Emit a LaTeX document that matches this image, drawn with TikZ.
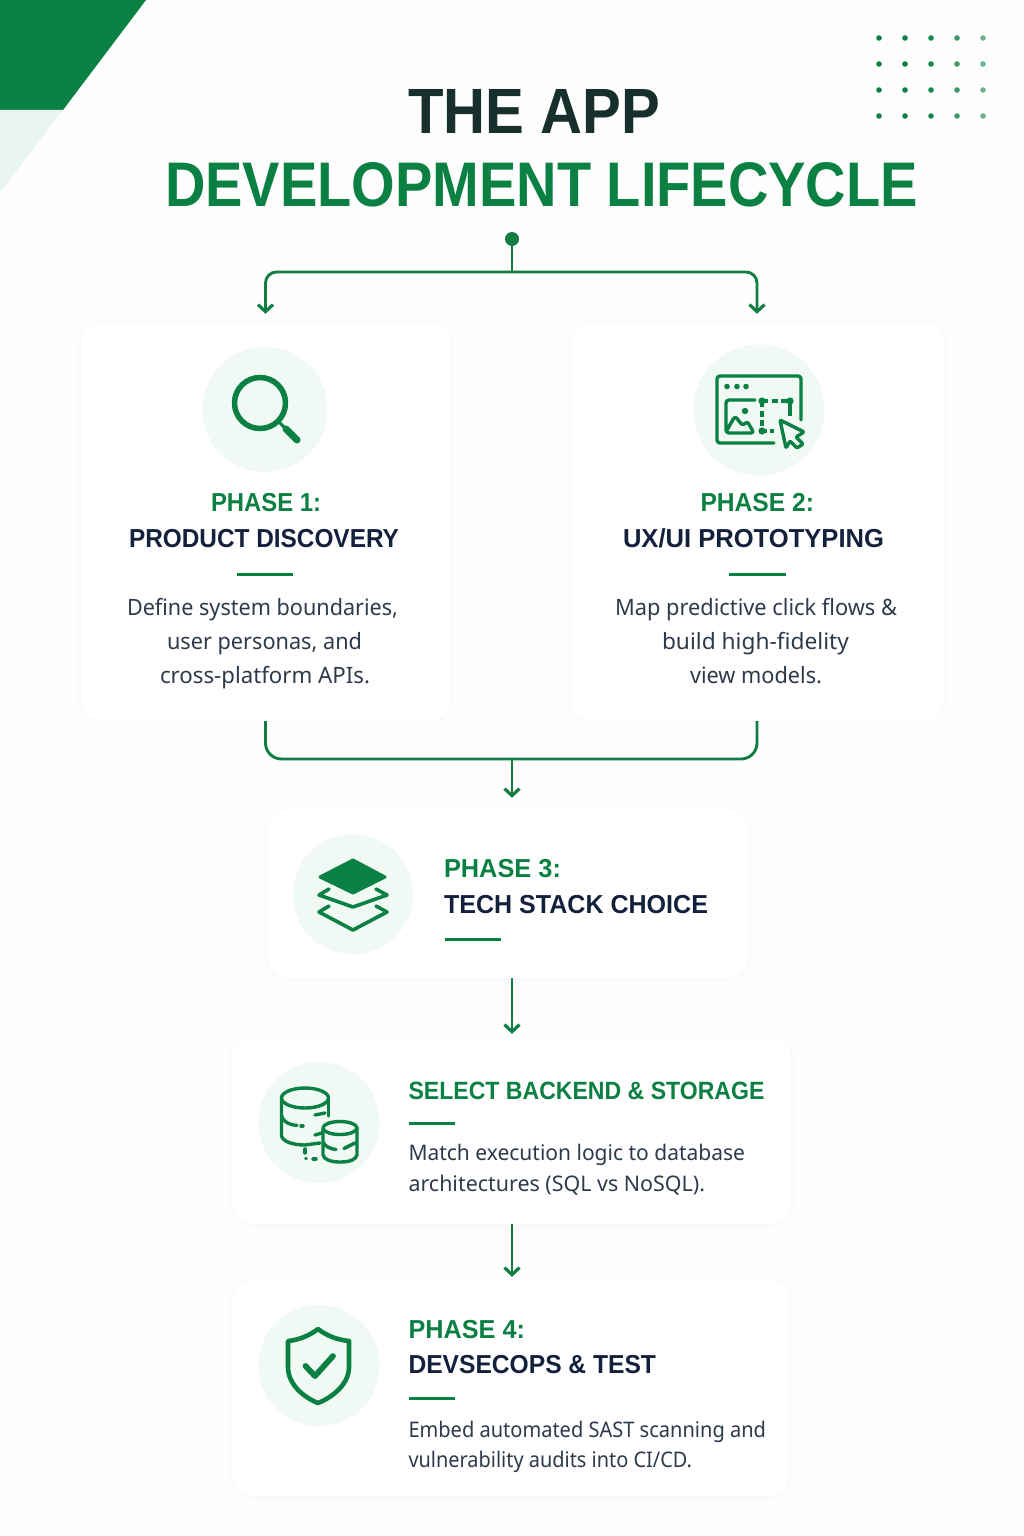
\documentclass[tikz,border=0pt]{standalone}
\usepackage{fontspec}
\usepackage{graphicx}
\setmainfont{Liberation Sans}
\newfontfamily\bodyfont{Noto Sans}
\usetikzlibrary{arrows.meta}
\definecolor{gr}{HTML}{0B8043}
\definecolor{grline}{HTML}{117D42}
\definecolor{navy}{HTML}{14213D}
\definecolor{ttl}{HTML}{17302C}
\definecolor{bodyc}{HTML}{2E3A4A}
\definecolor{pale}{HTML}{F0F9F4}
\definecolor{palecorner}{HTML}{E9F6EF}
\definecolor{bgc}{HTML}{FEFEFE}
\newsavebox\fitbox
\newcommand\fitw[2]{\sbox\fitbox{#2}\pgfmathsetmacro\fitr{#1/\the\wd\fitbox}\scalebox{\fitr}[1]{\usebox\fitbox}}
% name, left, right, baseline, style, text
\newcommand\TX[6]{\pgfmathsetmacro\tw{#3-#2}\node[txt,#5] (#1) at (#2,#4) {\fitw{\tw}{#6}};}
\tikzset{
  txt/.style={anchor=base west,inner sep=0pt,outer sep=0pt},
  ttlA/.style={text=ttl,font=\fontsize{64}{64}\selectfont\bfseries},
  ttlB/.style={text=gr,font=\fontsize{63}{63}\selectfont\bfseries},
  phase/.style={text=gr,font=\fontsize{26}{26}\selectfont\bfseries},
  head/.style={text=navy,font=\fontsize{26}{26}\selectfont\bfseries},
  sel/.style={text=gr,font=\fontsize{25}{25}\selectfont\bfseries},
  bodyA/.style={text=bodyc,font=\fontsize{22.5}{22.5}\selectfont\bodyfont},
  bodyB/.style={text=bodyc,font=\fontsize{21.5}{21.5}\selectfont\bodyfont},
  card/.style={rectangle,rounded corners=20pt,fill=white,inner sep=0pt,
    preaction={draw=black,draw opacity=.004,line width=14pt,transform canvas={yshift=-2pt}},
    preaction={draw=black,draw opacity=.005,line width=8pt,transform canvas={yshift=-2pt}},
    preaction={draw=black,draw opacity=.008,line width=3pt,transform canvas={yshift=-1pt}}},
  disc/.style={circle,fill=pale,inner sep=0pt},
  conn/.style={draw=grline,line width=2.9pt},
  tip/.style={conn,-{Straight Barb[length=7pt,width=15pt,line width=3.2pt]}},
  divd/.style={draw=gr,line width=3pt},
  ic/.style={draw=gr,line width=3.4pt,line cap=round,line join=round},
}
\begin{document}
\begin{tikzpicture}[x=1pt,y=-1pt]
\useasboundingbox (0,0) rectangle (1024,1536);
\fill[bgc] (0,0) rectangle (1024,1536);
% corner
\fill[gr] (0,0) -- (146,0) -- (63,110) -- (0,110) -- cycle;
\fill[palecorner] (0,110) -- (63,110) -- (0,192) -- cycle;
% dots
\foreach \x/\o in {879/1,905/1,931/.95,957/.8,983/.6}
  \foreach \y in {38,64,90,116}
    \fill[gr,opacity=\o] (\x,\y) circle (2.8);
% title
\TX{t1}{408}{660}{134}{ttlA}{THE APP}
\TX{t2}{165}{918}{206}{ttlB}{DEVELOPMENT LIFECYCLE}
% cards
\node[card,minimum width=369pt,minimum height=399pt] (c1) at (265.5,521.5) {};
\node[card,minimum width=373pt,minimum height=399pt] (c2) at (757,521.5) {};
\node[card,minimum width=480pt,minimum height=169pt] (c3) at (508,893.5) {};
\node[card,minimum width=559pt,minimum height=187pt] (c4) at (511.5,1130.5) {};
\node[card,minimum width=557pt,minimum height=216pt] (c5) at (510.5,1388) {};
% connectors
\node[circle,fill=grline,minimum size=14pt,inner sep=0pt] (root) at (512,239) {};
\coordinate (hubT) at (512,272);
\coordinate (hubB) at (512,759);
\draw[conn] (root) -- (hubT);
\draw[tip,rounded corners=11pt,shorten >=8pt] (hubT) -| (c1.north);
\draw[tip,rounded corners=11pt,shorten >=8pt] (hubT) -| (c2.north);
\draw[conn,rounded corners=16pt] (c1.south) |- (hubB);
\draw[conn,rounded corners=16pt] (c2.south) |- (hubB);
\draw[tip,shorten >=11pt] (hubB) -- (hubB |- c3.north);
\draw[tip,shorten >=3pt] (hubB |- c3.south) -- (hubB |- c4.north);
\draw[tip,shorten >=3pt] (hubB |- c4.south) -- (hubB |- c5.north);
% discs
\node[disc,minimum size=125pt] (d1) at (265,409.5) {};
\node[disc,minimum size=131pt] (d2) at (759,410) {};
\node[disc,minimum size=120pt] (d3) at (353,894) {};
\node[disc,minimum size=121pt] (d4) at (319,1122.5) {};
\node[disc,minimum size=121pt] (d5) at (319,1365.5) {};
% magnifier
\draw[ic,line width=5.5pt] (260,403) circle (25.5);
\draw[ic,line width=3pt] (279,422) -- (285,428);
\draw[ic,line width=7pt] (286,429) -- (297,440);
% window icon
\draw[ic,rounded corners=3pt] (801,420) -- (801,376) -- (717,376) -- (717,443) -- (774,443);
\foreach \x in {727,737,746} \fill[gr] (\x,386.5) circle (2.8);
\draw[ic,rounded corners=3pt] (755,400) -- (726,400) -- (726,433) -- (754,433) -- (747,421) -- (743,426) -- (735,416) -- (727,430);
\fill[gr] (745,411) circle (3.2);
\draw[ic,line cap=butt,dash pattern=on 6pt off 3.5pt] (762,401) -- (790,401);
\draw[ic,line cap=butt,dash pattern=on 6pt off 3.5pt] (762,401) -- (762,431) -- (774,431);
\draw[ic,line cap=butt] (790,401) -- (790,416);
\foreach \p in {(762,401),(790,401),(762,431)} \fill[gr] \p circle (3.6);
\draw[ic,rounded corners=1pt] (780,420) -- (804,432) -- (796,437) -- (803,444) -- (797,448) -- (790,441) -- (786,448) -- cycle;
% layers icon
\fill[gr,draw=gr,line width=3pt,line join=round] (320,877) -- (353,860) -- (385,877) -- (353,893) -- cycle;
\draw[ic,line width=3.6pt] (329,889) -- (319,895) -- (353,907) -- (387,895) -- (376,889);
\draw[ic,line width=3.6pt] (329,906) -- (319,912) -- (353,930) -- (387,912) -- (376,906);
% database icon
\draw[ic] (305,1098) ellipse (23.5 and 10);
\draw[ic] (281.5,1098) -- (281.5,1135) .. controls (281.5,1141) and (292,1145) .. (305,1145) -- (320,1143);
\draw[ic] (328.5,1098) -- (328.5,1116);
\draw[ic] (281.5,1116) .. controls (283,1122) and (290,1125) .. (297,1125.5);
\draw[ic] (301,1126) -- (303,1126);
\draw[ic] (315,1115) -- (325,1113);
\draw[ic] (315,1135) -- (322,1133);
\draw[ic,fill=pale] (340,1128) ellipse (17 and 6.5);
\draw[ic] (323,1128) -- (323,1155) .. controls (324,1160) and (332,1162) .. (340,1162) .. controls (349,1162) and (356,1160) .. (357,1155) -- (357,1128);
\draw[ic] (323.5,1143) .. controls (326,1147) and (331,1149) .. (336,1149.5);
\draw[ic] (344,1148.5) -- (355,1143);
\draw[ic] (305,1149) -- (305,1153);
\fill[gr] (306,1158.5) circle (1.9);
\draw[ic] (313,1159) -- (316,1159);
% shield
\draw[ic,line width=4.6pt] (318,1329) .. controls (309,1336) and (298,1340) .. (288,1341) -- (288,1367) .. controls (288,1384) and (303,1397) .. (318,1403) .. controls (333,1397) and (349,1384) .. (349,1367) -- (349,1341) .. controls (338,1340) and (327,1336) .. (318,1329) -- cycle;
\draw[ic,line width=5.8pt] (305.5,1366) -- (315,1376) -- (333,1356);
% card 1
\TX{p1}{211}{321}{511.5}{phase}{PHASE 1:}
\TX{h1}{129}{399}{547.5}{head}{PRODUCT DISCOVERY}
\coordinate (m1a) at (237,574); \coordinate (m1b) at (293,574);
\draw[divd] (m1a) -- (m1b);
\TX{b1a}{127}{398}{615}{bodyA}{Define system boundaries,}
\TX{b1b}{167}{362}{649}{bodyA}{user personas, and}
\TX{b1c}{160}{370}{683}{bodyA}{cross-platform APIs.}
% card 2
\TX{p2}{700.5}{814}{511.5}{phase}{PHASE 2:}
\TX{h2}{623}{884}{547.5}{head}{UX/UI PROTOTYPING}
\coordinate (m2a) at (729,574); \coordinate (m2b) at (786,574);
\draw[divd] (m2a) -- (m2b);
\TX{b2a}{615}{897}{615}{bodyA}{Map predictive click flows \&}
\TX{b2b}{662}{849}{649}{bodyA}{build high-fidelity}
\TX{b2c}{690}{822}{683}{bodyA}{view models.}
% card 3
\TX{p3}{444}{561}{877}{phase}{PHASE 3:}
\TX{h3}{444}{708}{913.5}{head}{TECH STACK CHOICE}
\coordinate (m3a) at (445,939); \coordinate (m3b) at (501,939);
\draw[divd] (m3a) -- (m3b);
% card 4
\TX{h4}{408.5}{764.5}{1099.5}{sel}{SELECT BACKEND \& STORAGE}
\coordinate (m4a) at (409,1123); \coordinate (m4b) at (455,1123);
\draw[divd] (m4a) -- (m4b);
\TX{b4a}{408.5}{745}{1160}{bodyB}{Match execution logic to database}
\TX{b4b}{408.5}{705}{1191}{bodyB}{architectures (SQL vs NoSQL).}
% card 5
\TX{p5}{408.5}{525}{1338}{phase}{PHASE 4:}
\TX{h5}{408.5}{656}{1373.5}{head}{DEVSECOPS \& TEST}
\coordinate (m5a) at (409,1398); \coordinate (m5b) at (455,1398);
\draw[divd] (m5a) -- (m5b);
\TX{b5a}{408.5}{766}{1437}{bodyB}{Embed automated SAST scanning and}
\TX{b5b}{408.5}{692}{1467}{bodyB}{vulnerability audits into CI/CD.}
\end{tikzpicture}
\end{document}
